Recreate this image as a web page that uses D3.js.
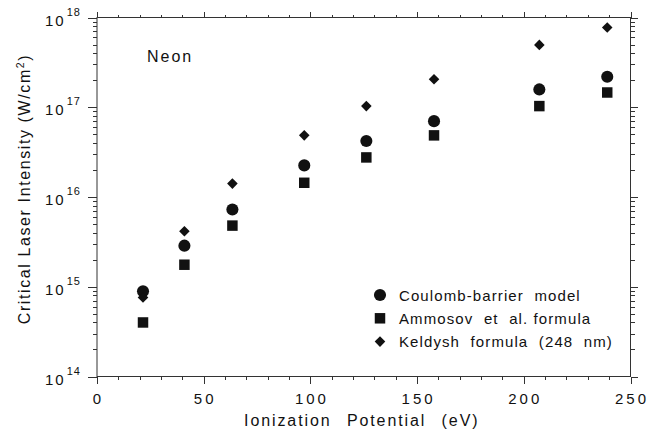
<!DOCTYPE html>
<html>
<head>
<meta charset="utf-8">
<script src="https://cdn.jsdelivr.net/npm/d3@7"></script>
<style>
  body { margin: 0; background: #fff; }
  svg { display: block; font-family: "Liberation Sans", Arial, Helvetica, sans-serif; }
  .axis path, .axis line { stroke: #333; stroke-width: 1; shape-rendering: crispEdges; }
  .pre { white-space: pre; }
</style>
</head>
<body>
<div id="chart"></div>
<script>
// Neon: critical laser intensity vs ionization potential
const ionization = [21.56, 40.96, 63.45, 97.12, 126.21, 157.93, 207.28, 239.1];
const coulomb = [8.9e14, 2.87e15, 7.25e15, 2.25e16, 4.2e16, 7.0e16, 1.58e17, 2.19e17];
const ammosov = [4.0e14, 1.76e15, 4.8e15, 1.44e16, 2.76e16, 4.86e16, 1.03e17, 1.46e17];
const keldysh = [7.6e14, 4.15e15, 1.41e16, 4.86e16, 1.03e17, 2.05e17, 4.95e17, 7.73e17];

const xTicks = [0, 50, 100, 150, 200, 250];
const yExponents = [14, 15, 16, 17, 18];
const legendLabels = ['Coulomb-barrier  model', 'Ammosov  et  al. formula', 'Keldysh  formula  (248  nm)'];

const width = 667;
const height = 440;
const margin = {top: 17.5, bottom: 63.5, left: 97, right: 36.5};
const plotW = width - margin.left - margin.right;
const plotH = height - margin.top - margin.bottom;

const x = d3.scaleLinear().domain([0, 250]).range([0, plotW]);
const y = d3.scaleLog().domain([1e14, 1e18]).range([plotH, 0]);

const svg = d3.select('#chart')
    .append('svg')
    .attr('width', width)
    .attr('height', height);

const g = svg.append('g')
    .attr('transform', `translate(${margin.left},${margin.top})`);

// minor tick values
const xMinor = d3.range(0, 251, 10).filter(v => v % 50 !== 0);
const yMinor = [];
yExponents.slice(0, -1).forEach(e => {
    for (let k = 2; k <= 9; k++) yMinor.push(k * Math.pow(10, e));
});
const yMajor = yExponents.map(e => Math.pow(10, e));

// frame
g.append('rect')
    .attr('width', plotW)
    .attr('height', plotH)
    .attr('fill', 'none')
    .attr('stroke', '#333')
    .attr('stroke-width', 1);

function ticksOnly(axis, values, size) {
    return axis.tickValues(values).tickSize(size).tickFormat('').tickSizeOuter(0);
}

// bottom
g.append('g').attr('class', 'axis').attr('transform', `translate(0,${plotH})`)
    .call(ticksOnly(d3.axisBottom(x), xTicks, 7));
g.append('g').attr('class', 'axis').attr('transform', `translate(0,${plotH})`)
    .call(ticksOnly(d3.axisBottom(x), xMinor, 3));
// top
g.append('g').attr('class', 'axis')
    .call(ticksOnly(d3.axisTop(x), xTicks, 6));
g.append('g').attr('class', 'axis')
    .call(ticksOnly(d3.axisTop(x), xMinor, 3));
// left
g.append('g').attr('class', 'axis')
    .call(ticksOnly(d3.axisLeft(y), yMajor, 9));
g.append('g').attr('class', 'axis')
    .call(ticksOnly(d3.axisLeft(y), yMinor, 4));
// right
g.append('g').attr('class', 'axis').attr('transform', `translate(${plotW},0)`)
    .call(ticksOnly(d3.axisRight(y), yMajor, 7));
g.append('g').attr('class', 'axis').attr('transform', `translate(${plotW},0)`)
    .call(ticksOnly(d3.axisRight(y), yMinor, 4));

g.selectAll('.axis .domain').remove();

// x tick labels
g.selectAll('.xlab')
    .data(xTicks)
    .enter()
    .append('text')
    .attr('class', 'xlab')
    .attr('x', d => x(d) + 1.5)
    .attr('y', plotH + 27)
    .attr('text-anchor', 'middle')
    .attr('font-size', 15)
    .attr('letter-spacing', 3)
    .attr('fill', '#111')
    .text(d => d);

// y tick labels 10^n
const ylab = g.selectAll('.ylab')
    .data(yExponents)
    .enter()
    .append('text')
    .attr('class', 'ylab')
    .attr('x', -52)
    .attr('y', d => y(Math.pow(10, d)) + 8)
    .attr('font-size', 15)
    .attr('letter-spacing', 2)
    .attr('fill', '#111');
ylab.append('tspan').text('10');
ylab.append('tspan')
    .attr('dy', -10)
    .attr('dx', 1)
    .attr('font-size', 11)
    .attr('letter-spacing', 1)
    .text(d => d);

// axis titles
g.append('text')
    .attr('x', plotW / 2 - 2)
    .attr('y', plotH + 49)
    .attr('text-anchor', 'middle')
    .attr('font-size', 16)
    .attr('letter-spacing', 1.9)
    .attr('word-spacing', 9)
    .attr('fill', '#111')
    .text('Ionization Potential (eV)');

const yTitle = g.append('text')
    .attr('transform', `translate(-67,${plotH / 2 - 8}) rotate(-90)`)
    .attr('text-anchor', 'middle')
    .attr('font-size', 16)
    .attr('letter-spacing', 1.6)
    .attr('fill', '#111');
yTitle.append('tspan').text('Critical Laser Intensity (W/cm');
yTitle.append('tspan').attr('dy', -6).attr('font-size', 10.5).text('2');
yTitle.append('tspan').attr('dy', 6).text(')');

// Neon label
g.append('text')
    .attr('x', 50)
    .attr('y', 44)
    .attr('font-size', 16)
    .attr('letter-spacing', 2)
    .attr('fill', '#111')
    .text('Neon');

// data points
const series = [
    {values: coulomb, symbol: d3.symbol(d3.symbolCircle, 115), rot: 0},
    {values: ammosov, symbol: d3.symbol(d3.symbolSquare, 110), rot: 0},
    {values: keldysh, symbol: d3.symbol(d3.symbolSquare, 56), rot: 45}
];

series.forEach(s => {
    g.selectAll(null)
        .data(ionization.map((v, i) => [v, s.values[i]]))
        .enter()
        .append('path')
        .attr('d', s.symbol)
        .attr('transform', d => `translate(${x(d[0])},${y(d[1])}) rotate(${s.rot})`)
        .attr('fill', '#111');
});

// legend
const legend = g.append('g').attr('transform', `translate(${380 - margin.left},${295 - margin.top})`);
series.forEach((s, i) => {
    legend.append('path')
        .attr('d', s.symbol)
        .attr('transform', `translate(0,${i * 23.3}) rotate(${s.rot})`)
        .attr('fill', '#111');
    legend.append('text')
        .attr('class', 'pre')
        .attr('x', 19)
        .attr('y', i * 23.3 + 5.5)
        .attr('font-size', 15)
        .attr('letter-spacing', 1.1)
        .attr('fill', '#111')
        .text(legendLabels[i]);
});
</script>
</body>
</html>
